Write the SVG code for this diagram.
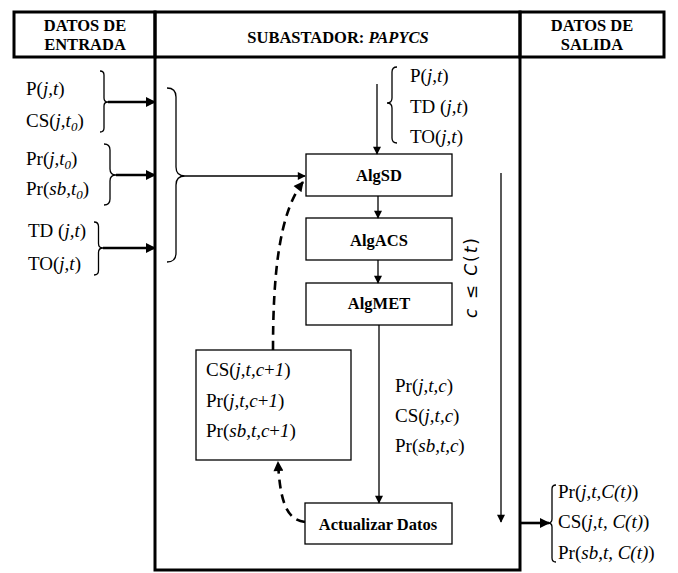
<svg xmlns="http://www.w3.org/2000/svg" width="678" height="573" viewBox="0 0 678 573">
<style>
.f{font-family:"Liberation Serif","Times New Roman",serif;font-size:19px;fill:#000}
.b{font-family:"Liberation Serif","DejaVu Serif Condensed",serif;font-weight:700;font-size:16.5px;text-anchor:middle;fill:#000}
.i{font-style:italic}
.s{font-size:13px}
.thin{fill:none;stroke:#000;stroke-width:1.3}
.thick{fill:none;stroke:#000;stroke-width:2.6}
.dash{fill:none;stroke:#000;stroke-width:2.6;stroke-dasharray:9,6}
.box{fill:#fff;stroke:#000;stroke-width:1.3}
.frame{fill:none;stroke:#000;stroke-width:3}
</style>
<defs>
<marker id="ah" viewBox="0 0 10 10" refX="9" refY="5" markerWidth="9" markerHeight="8" markerUnits="userSpaceOnUse" orient="auto"><path d="M0,0 L10,5 L0,10 z" fill="#000"/></marker>
<marker id="ahb" viewBox="0 0 10 10" refX="9" refY="5" markerWidth="11" markerHeight="10" markerUnits="userSpaceOnUse" orient="auto"><path d="M0,0 L10,5 L0,10 z" fill="#000"/></marker>
</defs>
<rect width="678" height="573" fill="#fff"/>

<g id="header-entrada">
<rect x="14" y="12" width="141" height="45" class="frame" stroke-width="2.5"/>
<text class="b" x="85" y="31">DATOS DE</text>
<text class="b" x="85" y="50">ENTRADA</text>
</g>
<g id="subastador">
<rect x="155" y="12" width="365" height="558" class="frame"/>
<line x1="155" y1="57" x2="520" y2="57" stroke="#000" stroke-width="3"/>
<text class="b" x="338" y="43">SUBASTADOR: <tspan class="i">PAPYCS</tspan></text>
</g>
<g id="header-salida">
<rect x="520" y="12" width="144" height="45" class="frame" stroke-width="3.5"/>
<text class="b" x="592" y="31">DATOS DE</text>
<text class="b" x="592" y="50">SALIDA</text>
</g>

<g id="inputs">
<text class="f" x="26" y="95">P(<tspan class="i">j,t</tspan>)</text>
<text class="f" x="26" y="127">CS(<tspan class="i">j,t<tspan class="s" dy="4">0</tspan></tspan><tspan dy="-4">)</tspan></text>
<text class="f" x="26" y="165">Pr(<tspan class="i">j,t<tspan class="s" dy="4">0</tspan></tspan><tspan dy="-4">)</tspan></text>
<text class="f" x="26" y="195">Pr(<tspan class="i">sb,t<tspan class="s" dy="4">0</tspan></tspan><tspan dy="-4">)</tspan></text>
<text class="f" x="28" y="237">TD (<tspan class="i">j,t</tspan>)</text>
<text class="f" x="28" y="270">TO(<tspan class="i">j,t</tspan>)</text>
</g>

<g id="top-inputs">
<text class="f" x="410" y="82">P(<tspan class="i">j,t</tspan>)</text>
<text class="f" x="410" y="113">TD (<tspan class="i">j,t</tspan>)</text>
<text class="f" x="410" y="143">TO(<tspan class="i">j,t</tspan>)</text>
</g>

<g id="AlgSD"><rect x="306" y="154" width="146" height="42" class="box"/><text class="b" x="379" y="181">AlgSD</text></g>
<g id="AlgACS"><rect x="306" y="218" width="146" height="42" class="box"/><text class="b" x="379" y="246">AlgACS</text></g>
<g id="AlgMET"><rect x="306" y="283" width="146" height="42" class="box"/><text class="b" x="379" y="309">AlgMET</text></g>
<g id="Actualizar"><rect x="305" y="503" width="147" height="41" class="box"/><text class="b" x="378" y="530">Actualizar Datos</text></g>

<g id="datos-c1">
<rect x="196" y="350" width="155" height="110" class="box"/>
<text class="f" x="206" y="376">CS(<tspan class="i">j,t,c</tspan>+<tspan class="i">1</tspan>)</text>
<text class="f" x="206" y="407">Pr(<tspan class="i">j,t,c</tspan>+<tspan class="i">1</tspan>)</text>
<text class="f" x="206" y="437">Pr(<tspan class="i">sb,t,c</tspan>+<tspan class="i">1</tspan>)</text>
</g>

<g id="datos-c">
<text class="f" x="395" y="392">Pr(<tspan class="i">j,t,c</tspan>)</text>
<text class="f" x="395" y="422">CS(<tspan class="i">j,t,c</tspan>)</text>
<text class="f" x="395" y="452">Pr(<tspan class="i">sb,t,c</tspan>)</text>
</g>

<g id="loop-label">
<text transform="translate(477,278) rotate(-90)" text-anchor="middle" font-family="DejaVu Sans, sans-serif" font-size="17" textLength="80"><tspan font-style="italic">c</tspan> ≤ <tspan font-style="italic">C</tspan>(<tspan font-style="italic">t</tspan>)</text>
</g>

<g id="outputs">
<text class="f" x="558" y="498">Pr(<tspan class="i">j,t,C(t)</tspan>)</text>
<text class="f" x="558" y="528">CS(<tspan class="i">j,t, C(t)</tspan>)</text>
<text class="f" x="558" y="559">Pr(<tspan class="i">sb,t, C(t)</tspan>)</text>
</g>

<g id="connectors">
<path class="thin" d="M100,71 Q104,71 104,75 L104,98 Q104,102 108,102 Q104,102 104,106 L104,128 Q104,132 100,132"/>
<path class="thin" d="M104,144 Q110,144 110,150 L110,169 Q110,175 116,175 Q110,175 110,181 L110,199 Q110,205 104,205"/>
<path class="thin" d="M94,222 Q98.5,222 98.5,226.5 L98.5,243.5 Q98.5,248 103,248 Q98.5,248 98.5,252.5 L98.5,270.5 Q98.5,275 94,275"/>
<path class="thin" d="M167,88 Q176,88 176,97 L176,167 Q176,176 185,176 Q176,176 176,185 L176,253 Q176,262 167,262"/>
<path class="thin" d="M397,67 Q392,67 392,72 L392,98 Q392,103 387,103 Q392,103 392,108 L392,138 Q392,143 397,143"/>
<path class="thin" d="M556,485 Q552,485 552,489 L552,519 Q552,523 548,523 Q552,523 552,527 L552,558 Q552,562 556,562"/>
<line class="thick" x1="108" y1="102" x2="155" y2="102" marker-end="url(#ahb)"/>
<line class="thick" x1="116" y1="175" x2="155" y2="175" marker-end="url(#ahb)"/>
<line class="thick" x1="103" y1="248" x2="155" y2="248" marker-end="url(#ahb)"/>
<line class="thin" x1="185" y1="176" x2="305" y2="176" marker-end="url(#ah)"/>
<line class="thin" x1="377" y1="84" x2="377" y2="154" marker-end="url(#ah)"/>
<line class="thin" x1="378" y1="196" x2="378" y2="218" marker-end="url(#ah)"/>
<line class="thin" x1="378" y1="260" x2="378" y2="283" marker-end="url(#ah)"/>
<line class="thin" x1="379" y1="325" x2="379" y2="503" marker-end="url(#ah)"/>
<line class="thin" x1="501" y1="173" x2="501" y2="522" marker-end="url(#ah)"/>
<line class="thick" x1="520" y1="523" x2="549" y2="523" marker-end="url(#ahb)"/>
<path class="dash" d="M273,350 C273,275 279,213 303,182" marker-end="url(#ahb)"/>
<path class="dash" d="M305,522 C286,520 280,500 278,462" marker-end="url(#ahb)"/>
</g>
</svg>
